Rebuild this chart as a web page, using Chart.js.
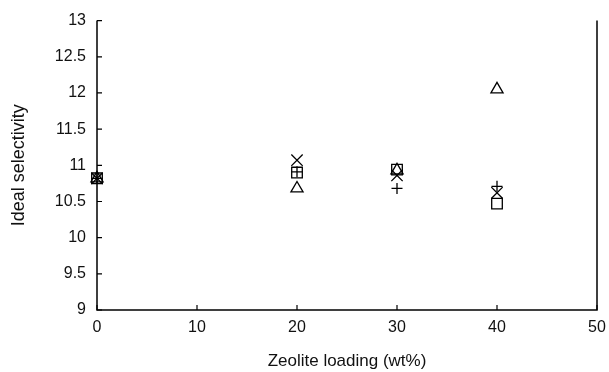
<!DOCTYPE html>
<html>
<head>
<meta charset="utf-8">
<script src="https://cdn.jsdelivr.net/npm/chart.js@4.4.0/dist/chart.umd.min.js"></script>
<style>
  html, body { margin: 0; padding: 0; background: #fff; }
  #wrap { width: 609px; height: 372px; }
</style>
</head>
<body>
<div id="wrap"><canvas id="scatterChart"></canvas></div>
<script>
// zeolite loading (wt%) and ideal selectivity for each marker series
var loading = [0, 20, 30, 40];
var squareVals = [10.82, 10.90, 10.94, 10.47];
var triangleVals = [10.82, 10.68, 10.93, 12.05];
var crossVals = [10.82, 11.07, 10.86, 10.62];
var plusVals = [10.82, 10.91, 10.68, 10.71];

var xTicks = [0, 10, 20, 30, 40, 50];
var yTicks = [9, 9.5, 10, 10.5, 11, 11.5, 12, 12.5, 13];

function toPoints(vals) {
    var pts = [];
    for (var a = 0; a < loading.length; a++) {
        pts.push({x: loading[a], y: vals[a]});
    }
    return pts;
}

// axis frame: inward ticks + right border line
var framePlugin = {
    id: 'frame',
    beforeDatasetsDraw: function(chart) {
        var ctx = chart.ctx;
        var area = chart.chartArea;
        var xs = chart.scales.x;
        var ys = chart.scales.y;
        ctx.save();
        ctx.strokeStyle = '#000';
        ctx.lineWidth = 1.5;
        ctx.beginPath();
        ctx.moveTo(area.left, area.top);
        ctx.lineTo(area.left, area.bottom);
        ctx.lineTo(area.right, area.bottom);
        ctx.lineTo(area.right, area.top);
        ctx.stroke();
        ctx.lineWidth = 1.2;
        ctx.beginPath();
        yTicks.forEach(function(v) {
            var py = ys.getPixelForValue(v);
            ctx.moveTo(area.left, py);
            ctx.lineTo(area.left + 5, py);
        });
        xTicks.forEach(function(v) {
            var px = xs.getPixelForValue(v);
            ctx.moveTo(px, area.bottom);
            ctx.lineTo(px, area.bottom - 5);
        });
        ctx.stroke();
        ctx.restore();
    }
};

var common = {
    borderColor: '#000',
    backgroundColor: 'rgba(0,0,0,0)',
    borderWidth: 1.3,
    showLine: false,
    clip: false
};

var ctx = document.getElementById('scatterChart').getContext('2d');

new Chart(ctx, {
    type: 'scatter',
    data: {
        datasets: [
            Object.assign({label: 'square', data: toPoints(squareVals), pointStyle: 'rect', pointRadius: 7.5}, common),
            Object.assign({label: 'triangle', data: toPoints(triangleVals), pointStyle: 'triangle', pointRadius: 7}, common),
            Object.assign({label: 'cross', data: toPoints(crossVals), pointStyle: 'crossRot', pointRadius: 8}, common),
            Object.assign({label: 'plus', data: toPoints(plusVals), pointStyle: 'cross', pointRadius: 5.5}, common)
        ]
    },
    options: {
        responsive: true,
        maintainAspectRatio: false,
        animation: false,
        layout: { padding: { top: 18, right: 0, left: 0, bottom: 0 } },
        plugins: {
            legend: { display: false },
            tooltip: { enabled: false }
        },
        scales: {
            x: {
                type: 'linear',
                min: 0,
                max: 50,
                afterBuildTicks: function(scale) {
                    scale.ticks = xTicks.map(function(v) { return {value: v}; });
                },
                afterFit: function(scale) { scale.height = 62; scale.paddingRight = 12; },
                grid: { display: false, drawTicks: false },
                border: { display: false },
                ticks: {
                    color: '#111',
                    padding: 8,
                    maxRotation: 0,
                    callback: function(v) { return String(v); },
                    font: { family: 'Liberation Sans', size: 16 }
                },
                title: {
                    display: true,
                    text: 'Zeolite loading (wt%)',
                    color: '#111',
                    padding: { top: 0, bottom: 0 },
                    font: { family: 'Liberation Sans', size: 17 }
                }
            },
            y: {
                type: 'linear',
                min: 9,
                max: 13,
                afterBuildTicks: function(scale) {
                    scale.ticks = yTicks.map(function(v) { return {value: v}; });
                },
                afterFit: function(scale) { scale.width = 97; },
                grid: { display: false, drawTicks: false },
                border: { display: false },
                ticks: {
                    color: '#111',
                    padding: 11,
                    callback: function(v) { return String(v); },
                    font: { family: 'Liberation Sans', size: 16 }
                },
                title: {
                    display: true,
                    text: 'Ideal selectivity',
                    color: '#111',
                    padding: { top: 8, bottom: 0 },
                    font: { family: 'Liberation Sans', size: 18 }
                }
            }
        }
    },
    plugins: [framePlugin]
});
</script>
</body>
</html>
